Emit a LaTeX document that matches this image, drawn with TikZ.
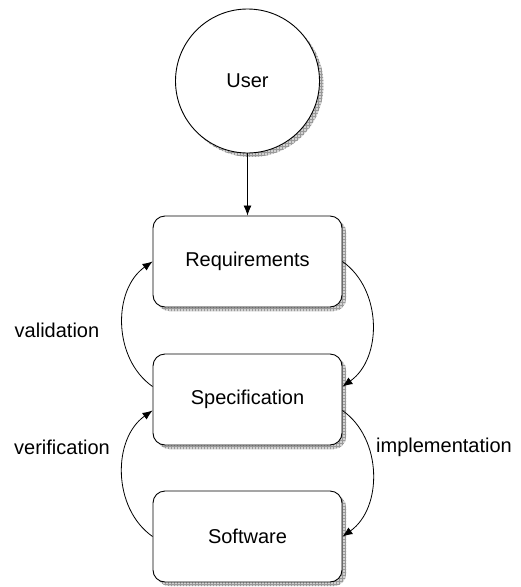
\documentclass[tikz,border=0pt]{standalone}
\usepackage{fontspec}
\setmainfont{Liberation Sans}
\usetikzlibrary{arrows.meta, patterns}
\tikzset{
  shade box/.style={preaction={fill=gray!35, draw=none, transform canvas={xshift=4pt, yshift=-4pt}},
    preaction={pattern=grid, pattern color=gray!80, draw=none, transform canvas={xshift=4pt, yshift=-4pt}}},
  block/.style={draw, line width=0.9pt, fill=white, rounded corners=12pt,
    minimum width=189pt, minimum height=91pt, shade box},
  actor/.style={draw, circle, line width=0.9pt, fill=white, minimum size=144pt, shade box},
  flow/.style={line width=0.8pt, -{Latex[length=10pt,width=8pt]}},
}

\begin{document}
\begin{tikzpicture}[x=1pt, y=1pt, font=\fontsize{20}{24}\selectfont]
      \useasboundingbox (0,0) rectangle (521,-587);
      \coordinate (c0) at (247.5,-81);
      \coordinate (c1) at (247.5,-261.5);
      \coordinate (c2) at (247.5,-399.5);
      \coordinate (c3) at (247.5,-536.5);

      \node[actor] (user) at (c0) {User};
      \node[block] (req) at (c1) {Requirements};
      \node[block] (spec) at (c2) {Specification};
      \node[block] (soft) at (c3) {Software};

      \draw[flow] (user) -- (req);
      \draw[flow] (req.east) to[bend left=55] ([yshift=13pt]spec.east);
      \draw[flow] ([yshift=-11pt]spec.east) to[bend left=55] (soft.east);
      \draw[flow] (soft.west) to[bend left=55] ([yshift=-11pt]spec.west);
      \draw[flow] ([yshift=13pt]spec.west) to[bend left=55] (req.west);

      \node (lval) at (57,-330) {validation};
      \node (lver) at (62,-447) {verification};
      \node (limp) at (444,-447) {implementation};
    \end{tikzpicture}
\end{document}
